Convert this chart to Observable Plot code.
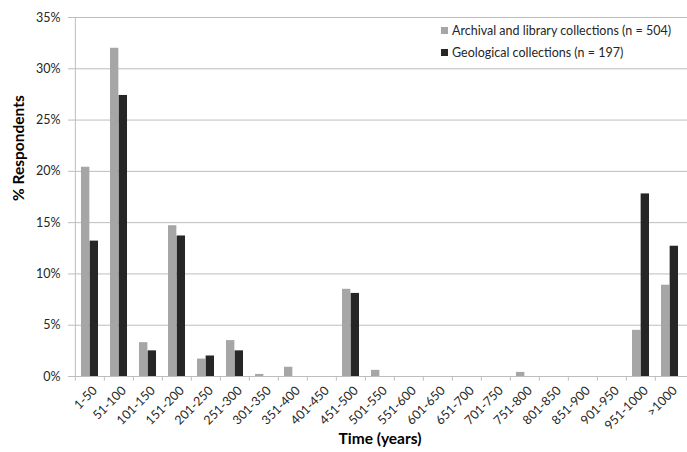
<!DOCTYPE html>
<html><head><meta charset="utf-8">
<script src="https://cdn.jsdelivr.net/npm/d3@7"></script>
<script src="https://cdn.jsdelivr.net/npm/@observablehq/plot@0.6"></script>
<style>
body{margin:0;background:#fff;}
#wrap{position:relative;width:687px;height:452px;font-family:Lato,"Open Sans",sans-serif;}
#legend{position:absolute;left:441px;top:20px;font-size:12.5px;color:#262626;line-height:22px;white-space:nowrap;}
#legend .sw{display:inline-block;width:7px;height:7px;margin-right:4px;vertical-align:1px;}
</style></head><body><div id="wrap"></div>
<script>
const categories = ["1-50","51-100","101-150","151-200","201-250","251-300","301-350","351-400","401-450","451-500","501-550","551-600","601-650","651-700","701-750","751-800","801-850","851-900","901-950","951-1000",">1000"];
const archival   = [20.4,32.0,3.3,14.7,1.7,3.5,0.2,0.9,0,8.5,0.6,0,0,0,0,0.4,0,0,0,4.5,8.9];
const geological = [13.2,27.4,2.5,13.7,2.0,2.5,0,0,0,8.1,0,0,0,0,0,0,0,0,0,17.8,12.7];
const seriesNames = ["Archival and library collections (n = 504)","Geological collections (n = 197)"];
const seriesColors = ["#a6a6a6","#262626"];
const yTicks = [0,5,10,15,20,25,30,35];
const xTitle = "Time (years)";
const yTitle = "% Respondents";

const W=687,H=452,ml=72,mr=0,mt=17,mb=76;
const bw=(W-ml-mr)/categories.length;
const barW=8.65, gap=(bw-2*barW)/2;
const rows = categories.map((c,i)=>({c,a:archival[i],g:geological[i]}));
const gridColor="#bdbdbd";

const chart = Plot.plot({
  width:W,height:H,marginLeft:ml,marginRight:mr,marginTop:mt,marginBottom:mb,
  style:{fontFamily:"Lato, 'Open Sans', sans-serif",fontSize:"12px",color:"#262626",background:"#fff"},
  x:{type:"band",domain:categories,padding:0,label:null},
  y:{domain:[0,35],label:null},
  marks:[
    Plot.gridY(yTicks,{stroke:gridColor,strokeOpacity:1}),
    Plot.ruleX([categories[0]],{y1:0,y2:35,dx:-bw/2,stroke:gridColor}),
    Plot.ruleX(categories,{y1:0,y2:-0.45,dx:-bw/2,stroke:gridColor}),
    Plot.barY(rows,{x:"c",y:"a",fill:seriesColors[0],insetLeft:gap,insetRight:bw-gap-barW}),
    Plot.barY(rows,{x:"c",y:"g",fill:seriesColors[1],insetLeft:gap+barW,insetRight:gap}),
    Plot.ruleY([0],{stroke:gridColor}),
    Plot.axisY(yTicks,{tickSize:4,tickPadding:8,stroke:gridColor,tickFormat:d=>d+"%",fontSize:12.5,fill:"#262626"}),
    Plot.axisX({tickSize:0,tickRotate:-45,tickPadding:12,dx:5,fontSize:12.5,fill:"#262626"}),
    Plot.text([xTitle],{frameAnchor:"bottom",dy:67,fontWeight:"bold",fontSize:15.5,fill:"#000"}),
    Plot.text([yTitle],{frameAnchor:"left",dx:-53,dy:4,rotate:-90,fontWeight:"bold",fontSize:15.5,fill:"#000"})
  ]
});
const wrap=document.getElementById("wrap");
wrap.appendChild(chart);
const leg=document.createElement("div");
leg.id="legend";
leg.innerHTML=seriesNames.map((n,i)=>`<div><span class="sw" style="background:${seriesColors[i]}"></span>${n}</div>`).join("");
wrap.appendChild(leg);
</script>
</body></html>
